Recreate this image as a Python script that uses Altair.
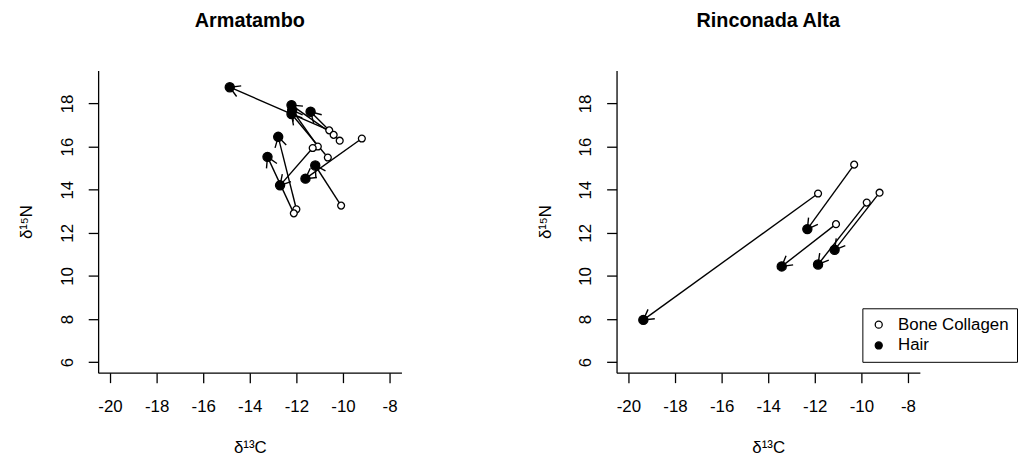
import altair as alt
import pandas as pd
import numpy as np

# ---- data ----
# Armatambo: bone collagen -> hair pairs
arm_bone_c = [-10.59, -10.40, -10.14, -10.65, -11.08, -11.30, -9.19, -10.08, -12.00, -12.11]
arm_bone_n = [16.75, 16.54, 16.27, 15.49, 16.00, 15.93, 16.37, 13.26, 13.09, 12.90]
arm_hair_c = [-14.86, -12.21, -11.39, -12.21, -12.18, -12.70, -11.61, -11.19, -12.78, -13.24]
arm_hair_n = [18.75, 17.92, 17.61, 17.51, 17.69, 14.20, 14.51, 15.12, 16.45, 15.52]

# Rinconada Alta: bone collagen -> hair pairs
rin_bone_c = [-10.31, -11.86, -11.09, -9.77, -9.22]
rin_bone_n = [15.16, 13.82, 12.40, 13.40, 13.86]
rin_hair_c = [-12.32, -19.36, -13.42, -11.86, -11.15]
rin_hair_n = [12.17, 7.96, 10.44, 10.53, 11.21]

x_ticks = [-20, -18, -16, -14, -12, -10, -8]
y_ticks = [6, 8, 10, 12, 14, 16, 18]
types = ["Bone Collagen", "Hair"]

FONT = "Liberation Sans"
W, H = 306, 305
XDOM = [-20.51, -7.49]
YDOM = [5.51, 19.53]
kx = W / (XDOM[1] - XDOM[0])
ky = H / (YDOM[1] - YDOM[0])

ARROW = "M -0.866 -0.5 L 0 0 L -0.866 0.5"


def xenc(field):
    return alt.X(field, type="quantitative",
                 scale=alt.Scale(domain=XDOM, nice=False, zero=False),
                 axis=alt.Axis(values=x_ticks, title="δ¹³C",
                               labelExpr="toString(datum.value)"))


def yenc(field):
    return alt.Y(field, type="quantitative",
                 scale=alt.Scale(domain=YDOM, nice=False, zero=False),
                 axis=alt.Axis(values=y_ticks, title="δ¹⁵N",
                               labelExpr="toString(datum.value)"))


def panel(title, bc, bn, hc, hn, legend):
    seg = pd.DataFrame({"c": bc, "n": bn, "c2": hc, "n2": hn})
    seg["ang"] = np.degrees(np.arctan2(-(seg.n2 - seg.n) * ky, (seg.c2 - seg.c) * kx)) % 360
    pts = pd.DataFrame({
        "c": bc + hc,
        "n": bn + hn,
        "type": [types[0]] * len(bc) + [types[1]] * len(hc),
    })
    rules = alt.Chart(seg).mark_rule(color="black", strokeWidth=1.4).encode(
        x=xenc("c"), y=yenc("n"), x2="c2", y2="n2")
    heads = alt.Chart(seg).mark_point(shape=ARROW, filled=False, color="black",
                                      strokeWidth=1.4, size=540, opacity=1).encode(
        x=xenc("c2"), y=yenc("n2"), angle=alt.Angle("ang:Q", scale=None))
    fill_kw = {}
    if legend:
        fill_kw["legend"] = alt.Legend(title=None, orient="none", legendX=248, legendY=240,
                                       strokeColor="black", fillColor="white",
                                       padding=8, symbolType="circle", symbolSize=50,
                                       symbolStrokeColor="black", symbolStrokeWidth=1.3,
                                       labelFontSize=17, labelFont=FONT, labelColor="black",
                                       rowPadding=3, symbolOffset=0, labelOffset=11,
                                       cornerRadius=0)
    else:
        fill_kw["legend"] = None
    points = alt.Chart(pts).mark_point(shape="circle", filled=True, stroke="black",
                                       strokeWidth=1.3, opacity=1).encode(
        x=xenc("c"), y=yenc("n"),
        fill=alt.Fill("type:N", scale=alt.Scale(domain=types, range=["white", "black"]),
                      **fill_kw),
        size=alt.Size("type:N", scale=alt.Scale(domain=types, range=[48, 85]), legend=None),
    )
    return alt.layer(rules, heads, points).properties(
        width=W, height=H,
        title=alt.TitleParams(title, fontSize=20, fontWeight="bold", font=FONT,
                              color="black", offset=40),
    )


left = panel("Armatambo", arm_bone_c, arm_bone_n, arm_hair_c, arm_hair_n, False)
right = panel("Rinconada Alta", rin_bone_c, rin_bone_n, rin_hair_c, rin_hair_n, True)

chart = alt.hconcat(left, right, spacing=134).resolve_legend(fill="independent").properties(
    padding={"left": 17, "top": 8, "right": 0, "bottom": 0},
    background="white",
).configure_view(stroke="transparent").configure_axis(
    grid=False, domainColor="black", domainWidth=1.3, tickColor="black", tickWidth=1.3,
    tickSize=10, labelFont=FONT, labelFontSize=17, labelColor="black",
    titleFont=FONT, titleFontSize=17, titleFontWeight="normal", titleColor="black",
).configure_axisX(labelPadding=16, titlePadding=25, labelFlush=False).configure_axisY(
    labelAngle=270, labelAlign="center", labelBaseline="bottom", labelPadding=12,
    titlePadding=23,
)

chart.save("out.html", embed_options={"renderer": "svg", "actions": False})
